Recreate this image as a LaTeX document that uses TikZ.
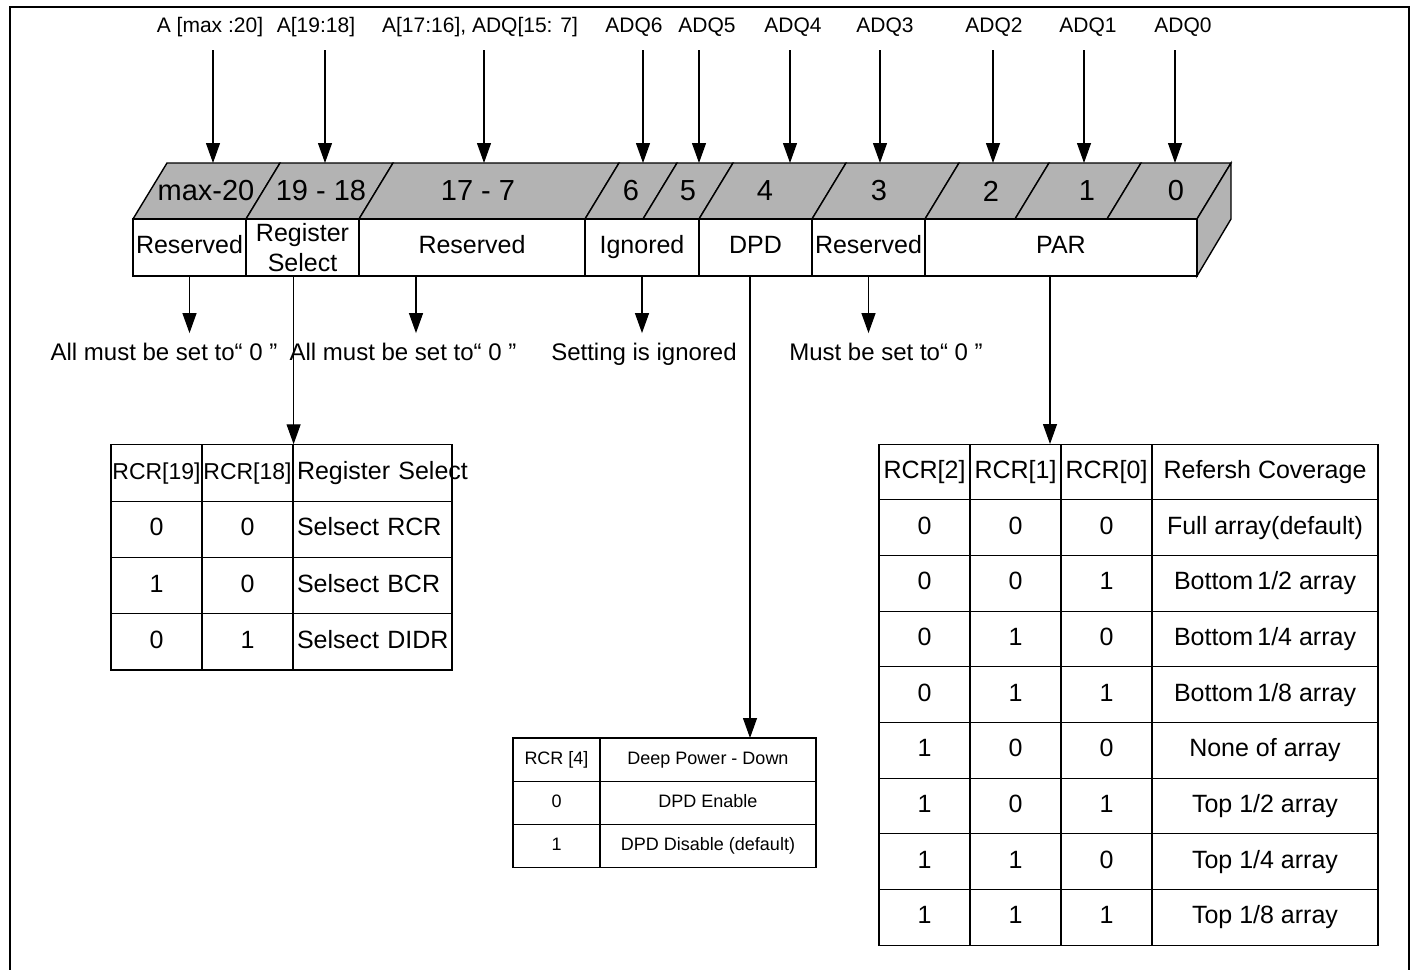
\documentclass[tikz,border=0pt]{standalone}
\usepackage{fontspec}
\setmainfont{Liberation Sans}
\usetikzlibrary{shapes,arrows.meta}
\usetikzlibrary{positioning}
\definecolor{bargray}{RGB}{179,179,179}
\tikzstyle{field} = [rectangle, draw, fill=white, line width=0.7pt, inner sep=0pt,
    minimum height=28.5pt, align=center, font=\fontsize{12.5}{15}\selectfont]
\tikzstyle{onefield} = [field, text height=9pt, text depth=2.6pt]
\tikzstyle{topface} = [draw, fill=bargray, line width=0.7pt]
\tikzstyle{bit} = [inner sep=0pt, font=\fontsize{14.5}{17}\selectfont]
\tikzstyle{busname} = [inner sep=0pt, text height=7.5pt, text depth=2pt,
    font=\fontsize{10.5}{12}\selectfont]
\tikzstyle{remark} = [inner sep=0pt, text height=9pt, text depth=2.5pt,
    font=\fontsize{12}{14}\selectfont]
\tikzstyle{tcell} = [rectangle, draw, line width=0.6pt, inner sep=2pt,
    text height=9pt, text depth=2.6pt,
    minimum width=45.5pt, minimum height=28.15pt, font=\fontsize{12.5}{15}\selectfont]
\tikzstyle{scell} = [rectangle, draw, line width=0.6pt, inner sep=2pt,
    text height=6.6pt, text depth=1.9pt,
    minimum height=21.65pt, font=\fontsize{9}{11}\selectfont]
\tikzstyle{line} = [draw, line width=0.6pt, -{Triangle[length=10pt,width=7pt]}]

\begin{document}
\begin{tikzpicture}[x=0.5pt,y=-0.5pt]
    \useasboundingbox (0,0) rectangle (1412,969);
    \draw[line width=1pt] (10,975) -- (10,6.5) -- (1409,6.5) -- (1409,975);
    % Register bar, top face and side
    \foreach \xa/\xb/\lx/\lab [count=\i] in {133/246/206/max-20, 246/359/321/19 - 18,
        359/585/478/17 - 7, 585/643/631/6, 643/699/688/5, 699/812/765/4,
        812/925/879/3, 925/1015/991/2, 1015/1107/1087/1, 1107/1197/1176/0}{
        \draw[topface] (\xa,219) -- (\xa+34,163) -- (\xb+34,163) -- (\xb,219) -- cycle;
        \node[bit] (b\i) at (\lx,191) {\lab};
    }
    \draw[topface] (1197,219) -- (1231,163) -- (1231,219) -- (1197,276) -- cycle;
    % Place nodes
    \node[onefield, minimum width=56.5pt] (f1) at (189.5,247.5) {Reserved};
    \node[field, minimum width=56.5pt] (f2) at (302.5,247.5) {Register\\Select};
    \node[onefield, minimum width=113pt] (f3) at (472,247.5) {Reserved};
    \node[onefield, minimum width=57pt] (f4) at (642,247.5) {Ignored};
    \node[onefield, minimum width=56.5pt] (f5) at (755.5,247.5) {DPD};
    \node[onefield, minimum width=56.5pt] (f6) at (868.5,247.5) {Reserved};
    \node[onefield, minimum width=136pt] (f7) at (1061,247.5) {PAR};
    % bus names with their arrows
    \foreach \nm/\lx/\ax/\lab in {a1/210/213/{A [max :20]}, a2/316/325/{A[19:18]},
        a3/480/484/{A[17:16], ADQ[15: 7]}, a4/634/643/ADQ6, a5/707/699/ADQ5,
        a6/793/790/ADQ4, a7/885/880/ADQ3, a8/994/993/ADQ2, a9/1088/1084/ADQ1,
        a10/1183/1175/ADQ0}{
        \node[busname] (\nm) at (\lx,27) {\lab};
        \coordinate (t\nm) at (\ax,163);
        \path [line, shorten <=6.75pt] (\nm.south -| t\nm) -- (t\nm);
    }
    \node[remark] (n1) at (164,354) {All must be set to“ 0 ”};
    \node[remark] (n2) at (403,354) {All must be set to“ 0 ”};
    \node[remark] (n3) at (644,354) {Setting is ignored};
    \node[remark] (n4) at (886,354) {Must be set to“ 0 ”};
    % Register select table
    \node[tcell, inner xsep=0pt, font=\fontsize{11.5}{14}\selectfont] (k1) at (156.5,473) {RCR[19]};
    \node[tcell, inner xsep=0pt, font=\fontsize{11.5}{14}\selectfont] (k2) at (247.5,473) {RCR[18]};
    \node[tcell, minimum width=79.5pt, text width=75.5pt, align=left] (k3) at (372.5,473) {\mbox{Register Select}};
    \foreach \a/\b/\c [count=\i] in {0/0/Selsect RCR, 1/0/Selsect BCR, 0/1/Selsect DIDR}{
        \node[tcell] (ka\i) at (156.5,473+56.3*\i) {\a};
        \node[tcell] (kb\i) at (247.5,473+56.3*\i) {\b};
        \node[tcell, minimum width=79.5pt, text width=75.5pt, align=left] (kc\i) at (372.5,473+56.3*\i) {\mbox{\c}};
    }
    % Deep power-down table
    \node[scell, minimum width=43.5pt] (d0a) at (556.5,759.6) {RCR [4]};
    \node[scell, minimum width=108pt] (d0b) at (708,759.6) {Deep Power - Down};
    \node[scell, minimum width=43.5pt] (d1a) at (556.5,802.9) {0};
    \node[scell, minimum width=108pt] (d1b) at (708,802.9) {DPD Enable};
    \node[scell, minimum width=43.5pt] (d2a) at (556.5,846.2) {1};
    \node[scell, minimum width=108pt] (d2b) at (708,846.2) {DPD Disable (default)};
    % Refresh coverage table
    \node[tcell, minimum height=27.83pt] (p0a) at (924.5,472) {RCR[2]};
    \node[tcell, minimum height=27.83pt] (p0b) at (1015.5,472) {RCR[1]};
    \node[tcell, minimum height=27.83pt] (p0c) at (1106.5,472) {RCR[0]};
    \node[tcell, minimum height=27.83pt, minimum width=113pt] (p0d) at (1265,472) {Refersh Coverage};
    \foreach \a/\b/\c/\d [count=\i] in {0/0/0/{Full array(default)}, 0/0/1/{Bottom\,1/2 array},
        0/1/0/{Bottom\,1/4 array}, 0/1/1/{Bottom\,1/8 array}, 1/0/0/{None of array},
        1/0/1/{Top 1/2 array}, 1/1/0/{Top 1/4 array}, 1/1/1/{Top 1/8 array}}{
        \node[tcell, minimum height=27.83pt] (pa\i) at (924.5,472+55.67*\i) {\a};
        \node[tcell, minimum height=27.83pt] (pb\i) at (1015.5,472+55.67*\i) {\b};
        \node[tcell, minimum height=27.83pt] (pc\i) at (1106.5,472+55.67*\i) {\c};
        \node[tcell, minimum height=27.83pt, minimum width=113pt] (pd\i) at (1265,472+55.67*\i) {\d};
    }
    \coordinate (dpdIn) at (750,738);
    \coordinate (parIn) at (1050,444);
    % Draw edges
    \path [line, shorten >=4.5pt] (f1.south) -- (f1.south |- n1.north);
    \path [line, shorten >=4.5pt] ([xshift=-28pt]f3.south) -- ([xshift=-28pt]f3.south |- n2.north);
    \path [line, shorten >=4.5pt] (f4.south) -- (f4.south |- n3.north);
    \path [line, shorten >=4.5pt] (f6.south) -- (f6.south |- n4.north);
    \path [line] (f2.south -| k2.north east) -- (k2.north east);
    \path [line] (f5.south -| dpdIn) -- (dpdIn);
    \path [line] (f7.south -| parIn) -- (parIn);
\end{tikzpicture}
\end{document}
